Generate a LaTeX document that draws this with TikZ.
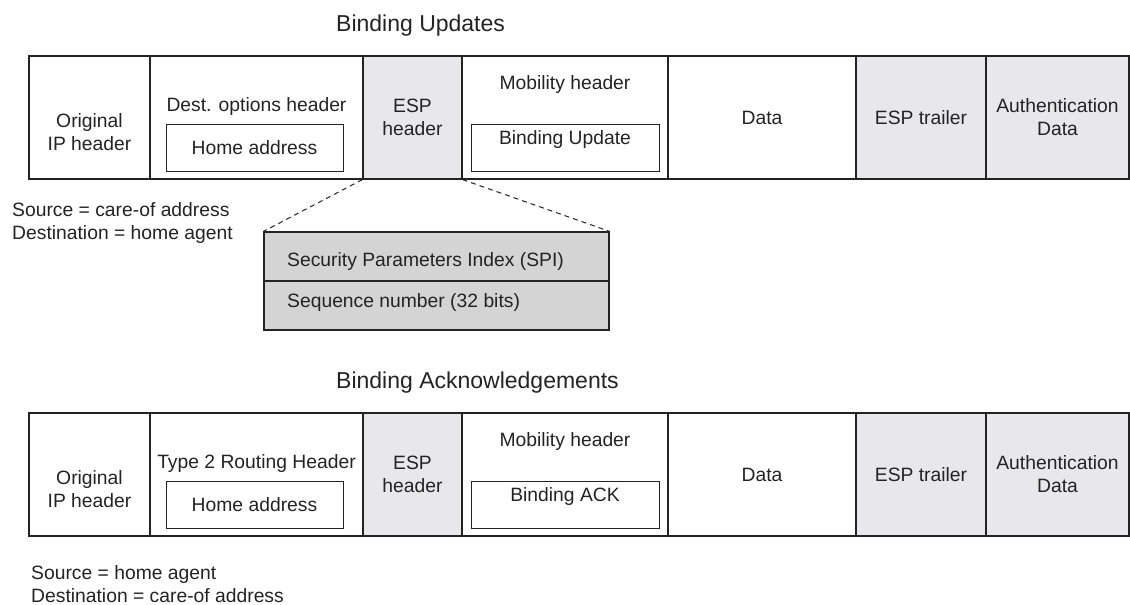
\documentclass[tikz,border=0pt]{standalone}
\usepackage{fontspec}
\setmainfont{Liberation Sans}
\usepackage{xcolor}
\definecolor{ink}{RGB}{35,35,35}
\definecolor{espgray}{RGB}{232,232,234}
\definecolor{spigray}{RGB}{212,212,212}

\begin{document}
\begin{tikzpicture}[x=1pt, y=-1pt,
    every node/.style={font=\fontsize{19.3}{23}\selectfont, text=ink, inner sep=0pt},
    lbl/.style={text height=13.8pt, text depth=0pt},
    cell/.style={draw=ink, line width=1.2pt, minimum height=123pt, align=center},
    shaded/.style={cell, fill=espgray},
    inbox/.style={draw=ink, line width=1pt, minimum height=47pt},
    field/.style={draw=ink, line width=1.2pt, fill=spigray, minimum width=345pt, minimum height=49pt},
    title/.style={font=\fontsize{23}{27}\selectfont, anchor=west, text height=16.5pt, text depth=0pt}]
  \useasboundingbox (0,0) rectangle (1130,605);
  \node[title] (bu) at (336, 23) {Binding Updates};
  \node[title] (ba) at (336, 380) {Binding Acknowledgements};
  \foreach \i/\ext/\msg in {1/Dest. options header/Binding Update, 2/Type 2 Routing Header/Binding ACK} {
    \pgfmathsetmacro{\r}{(\i-1)*357}
    \node[cell, minimum width=121pt] (orig\i) at (89.5, 117.5+\r) {};
    \node[align=center] (origtxt\i) at (89.5, 132.5+\r) {Original\\IP header};
    \node[cell, minimum width=213pt] (dest\i) at (256.5, 117.5+\r) {};
    \node[lbl] (ext\i) at (256.5, 105+\r) {\ext};
    \node[inbox, lbl, minimum width=177pt] (home\i) at (254.5, 147.5+\r) {Home address};
    \node[shaded, minimum width=99pt] (esp\i) at (412.5, 117.5+\r) {ESP\\header};
    \node[cell, minimum width=206pt] (mob\i) at (565, 117.5+\r) {};
    \node[lbl] (mobtxt\i) at (565, 83+\r) {Mobility header};
    \node[inbox, minimum width=188pt] (msg\i) at (565, 147.5+\r) {};
    \node[lbl] (msgtxt\i) at (565, 138+\r) {\msg};
    \node[cell, lbl, minimum width=188pt] (data\i) at (762, 117.5+\r) {Data};
    \node[shaded, lbl, minimum width=130pt] (trl\i) at (921, 117.5+\r) {ESP trailer};
    \node[shaded, minimum width=143pt] (auth\i) at (1057.5, 117.5+\r) {Authentication\\Data};
  }
  \node[align=left, anchor=west] (addr1) at (12, 223.5) {Source = care-of address\\Destination = home agent};
  \node[align=left, anchor=west] (addr2) at (31, 584.5) {Source = home agent\\Destination = care-of address};
  \node[field] (spi) at (436.5, 256.5) {};
  \node[field] (seq) at (436.5, 305.5) {};
  \node[lbl, anchor=west] (spitxt) at (287, 260) {Security Parameters Index (SPI)};
  \node[lbl, anchor=west] (seqtxt) at (287, 301) {Sequence number (32 bits)};
  \draw[draw=ink, line width=1pt, dash pattern=on 5pt off 4pt] (esp1.south west) -- (spi.north west);
  \draw[draw=ink, line width=1pt, dash pattern=on 5pt off 4pt] (esp1.south east) -- (spi.north east);
\end{tikzpicture}
\end{document}
